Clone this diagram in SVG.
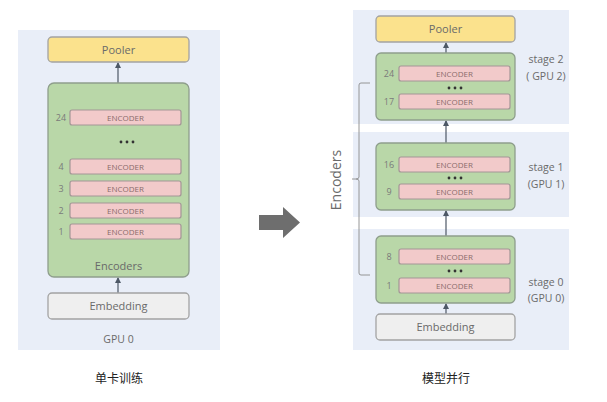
<svg xmlns="http://www.w3.org/2000/svg" width="607" height="402" viewBox="0 0 607 402">
<style>
.bg{fill:#e9eef8}
.pool{fill:#fbe28d;stroke:#a3a3a3;stroke-width:1.3}
.grn{fill:#b9d7a8;stroke:#8e9e8c;stroke-width:1.3}
.enc{fill:#f2caca;stroke:#a39696;stroke-width:1.2}
.emb{fill:#efefef;stroke:#a3a3a3;stroke-width:1.3}
text{font-family:"Open Sans","Liberation Sans",sans-serif;fill:#6a6a6a}
.et{font-size:8px;text-anchor:middle;fill:#8a6a6a}
.num{font-size:9px;text-anchor:middle;fill:#7a7a7a}
.lbl{font-size:11px;text-anchor:middle}
.st{font-size:10.5px;text-anchor:middle}
.cap{font-family:"Noto Sans CJK SC",sans-serif;font-size:12px;fill:#222;text-anchor:middle}
.ln{stroke:#4d5866;stroke-width:1.2;fill:none}
.dot{fill:#333}
</style>
<defs>
<marker id="ah" markerWidth="6" markerHeight="6" refX="5" refY="3" orient="auto" markerUnits="userSpaceOnUse">
<path d="M0,0 L6,3 L0,6 z" fill="#4d5866"/>
</marker>
</defs>
<rect class="bg" x="18" y="30" width="202" height="320"/>
<rect class="bg" x="353" y="10" width="216" height="114"/>
<rect class="bg" x="353" y="132" width="216" height="85"/>
<rect class="bg" x="353" y="229" width="216" height="121"/>
<g id="connectors">
<line class="ln" x1="118" y1="83" x2="118" y2="63" marker-end="url(#ah)"/>
<line class="ln" x1="118" y1="293" x2="118" y2="278" marker-end="url(#ah)"/>
<line class="ln" x1="446" y1="53" x2="446" y2="43" marker-end="url(#ah)"/>
<line class="ln" x1="446" y1="143" x2="446" y2="121" marker-end="url(#ah)"/>
<line class="ln" x1="446" y1="236" x2="446" y2="211" marker-end="url(#ah)"/>
<line class="ln" x1="446" y1="314" x2="446" y2="304" marker-end="url(#ah)"/>
</g>
<g id="pooler-left">
<rect class="pool" x="48" y="37" width="141" height="25" rx="4"/>
<text class="lbl" x="118.5" y="53.5">Pooler</text>
</g>
<g id="encoders-left">
<rect class="grn" x="48" y="83" width="141" height="194" rx="6"/>
<rect class="enc" x="70" y="110" width="111" height="15" rx="2"/><text class="et" x="125.5" y="120.5">ENCODER</text><text class="num" x="61" y="121">24</text>
<circle class="dot" cx="121" cy="142" r="1.4"/><circle class="dot" cx="127" cy="142" r="1.4"/><circle class="dot" cx="133" cy="142" r="1.4"/>
<rect class="enc" x="70" y="159" width="111" height="15" rx="2"/><text class="et" x="125.5" y="169.5">ENCODER</text><text class="num" x="61" y="170">4</text>
<rect class="enc" x="70" y="181" width="111" height="15" rx="2"/><text class="et" x="125.5" y="191.5">ENCODER</text><text class="num" x="61" y="192">3</text>
<rect class="enc" x="70" y="203" width="111" height="15" rx="2"/><text class="et" x="125.5" y="213.5">ENCODER</text><text class="num" x="61" y="214">2</text>
<rect class="enc" x="70" y="224" width="111" height="15" rx="2"/><text class="et" x="125.5" y="234.5">ENCODER</text><text class="num" x="61" y="235">1</text>
<text class="lbl" x="118.5" y="270">Encoders</text>
</g>
<g id="embedding-left">
<rect class="emb" x="48" y="293" width="141" height="26" rx="4"/>
<text class="lbl" x="118.5" y="310">Embedding</text>
</g>
<text class="st" x="118.5" y="343">GPU 0</text>
<g id="big-arrow">
<path d="M259,215 L283,215 L283,207 L300,222.5 L283,238 L283,230 L259,230 z" fill="#6e6e6e"/>
</g>
<g id="pooler-right">
<rect class="pool" x="376" y="16" width="139" height="26" rx="4"/>
<text class="lbl" x="445.5" y="33">Pooler</text>
</g>
<g id="stage2">
<rect class="grn" x="376" y="53" width="139" height="67" rx="5"/>
<rect class="enc" x="399" y="66" width="111" height="15" rx="2"/><text class="et" x="454.5" y="76.5">ENCODER</text><text class="num" x="389" y="77">24</text>
<circle class="dot" cx="449" cy="88" r="1.4"/><circle class="dot" cx="455" cy="88" r="1.4"/><circle class="dot" cx="461" cy="88" r="1.4"/>
<rect class="enc" x="399" y="94" width="111" height="15" rx="2"/><text class="et" x="454.5" y="104.5">ENCODER</text><text class="num" x="389" y="105">17</text>
<text class="st" x="546" y="63">stage 2</text><text class="st" x="546" y="80">( GPU 2)</text>
</g>
<g id="stage1">
<rect class="grn" x="376" y="143" width="139" height="67" rx="5"/>
<rect class="enc" x="399" y="157" width="111" height="15" rx="2"/><text class="et" x="454.5" y="167.5">ENCODER</text><text class="num" x="389" y="168">16</text>
<circle class="dot" cx="449" cy="178" r="1.4"/><circle class="dot" cx="455" cy="178" r="1.4"/><circle class="dot" cx="461" cy="178" r="1.4"/>
<rect class="enc" x="399" y="184" width="111" height="15" rx="2"/><text class="et" x="454.5" y="194.5">ENCODER</text><text class="num" x="389" y="195">9</text>
<text class="st" x="546" y="171">stage 1</text><text class="st" x="546" y="188">(GPU 1)</text>
</g>
<g id="stage0">
<rect class="grn" x="376" y="236" width="139" height="67" rx="5"/>
<rect class="enc" x="399" y="249" width="111" height="15" rx="2"/><text class="et" x="454.5" y="259.5">ENCODER</text><text class="num" x="389" y="260">8</text>
<circle class="dot" cx="449" cy="271" r="1.4"/><circle class="dot" cx="455" cy="271" r="1.4"/><circle class="dot" cx="461" cy="271" r="1.4"/>
<rect class="enc" x="399" y="278" width="111" height="15" rx="2"/><text class="et" x="454.5" y="288.5">ENCODER</text><text class="num" x="389" y="289">1</text>
<text class="st" x="546" y="286">stage 0</text><text class="st" x="546" y="302">(GPU 0)</text>
</g>
<g id="embedding-right">
<rect class="emb" x="376" y="314" width="139" height="26" rx="4"/>
<text class="lbl" x="445.5" y="331">Embedding</text>
</g>
<g id="bracket">
<path d="M370,83 L361,83 Q359,83 359,85 L359,177 Q359,179 356,179 L352,179 M356,179 Q359,179 359,181 L359,273 Q359,275 361,275 L370,275" fill="none" stroke="#8a8a8a" stroke-width="0.9"/>
<text x="0" y="0" font-size="14" text-anchor="middle" fill="#777" transform="translate(341,180) rotate(-90)">Encoders</text>
</g>
<text class="cap" x="119" y="383">单卡训练</text>
<text class="cap" x="446" y="383">模型并行</text>
</svg>
